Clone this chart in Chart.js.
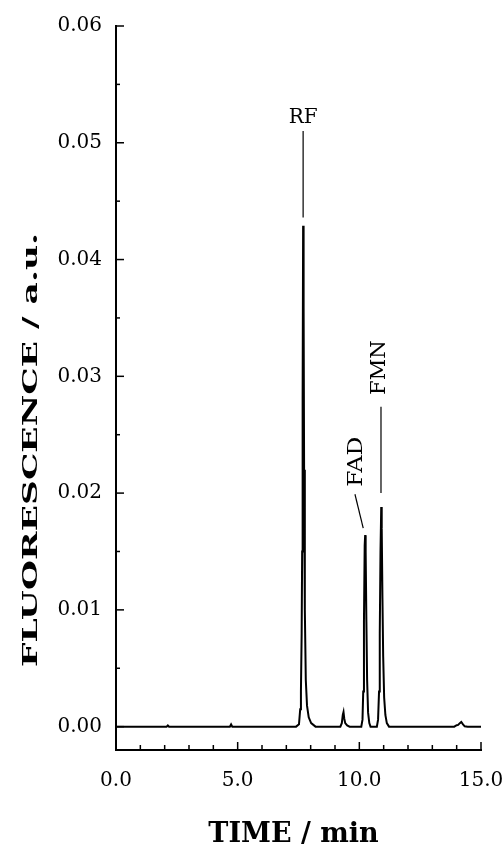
<!DOCTYPE html>
<html>
<head>
<meta charset="utf-8">
<script src="https://cdn.jsdelivr.net/npm/chart.js@4/dist/chart.umd.min.js"></script>
<style>
  body { margin: 0; background: #fff; }
</style>
</head>
<body>
<canvas id="myChart" width="503" height="844"></canvas>
<script>
// chromatogram trace
const times = [0, 2.08, 2.13, 2.18, 4.68, 4.73, 4.78,
    7.40, 7.52, 7.57, 7.60, 7.63, 7.65, 7.67, 7.69, 7.71, 7.73, 7.76, 7.80, 7.85, 7.92, 8.02, 8.20,
    9.22, 9.28, 9.32, 9.35, 9.38, 9.42, 9.50, 9.60,
    10.08, 10.13, 10.16, 10.19, 10.22, 10.24, 10.26, 10.29, 10.32, 10.36, 10.41, 10.46,
    10.72, 10.77, 10.81, 10.84, 10.87, 10.90, 10.92, 10.95, 10.98, 11.02, 11.07, 11.13, 11.22,
    13.90, 14.00, 14.06, 14.13, 14.19, 14.26, 14.33, 14.45, 15.0];
const fluorescence = [0, 0, 0.0001, 0, 0, 0.0002, 0,
    0, 0.0002, 0.0015, 0.003, 0.008, 0.015, 0.028, 0.0429, 0.036, 0.022, 0.010, 0.004, 0.0018, 0.0008, 0.0003, 0,
    0, 0.0003, 0.0010, 0.00125, 0.0007, 0.0003, 0.0001, 0,
    0, 0.0006, 0.003, 0.009, 0.0155, 0.0164, 0.0150, 0.009, 0.004, 0.0012, 0.0003, 0,
    0, 0.0006, 0.003, 0.008, 0.0150, 0.0188, 0.0170, 0.011, 0.006, 0.0025, 0.0010, 0.0003, 0,
    0, 0.00012, 0.00015, 0.0003, 0.0004, 0.0002, 0.00003, 0, 0];

const xTicks = [0, 5, 10, 15];
const xMinorTicks = [1, 2, 3, 4, 6, 7, 8, 9, 11, 12, 13, 14];
const yTicks = [0, 0.01, 0.02, 0.03, 0.04, 0.05, 0.06];
const yMinorTicks = [0.005, 0.015, 0.025, 0.035, 0.045, 0.055];

const serif = "'DejaVu Serif', serif";

// inward ticks, peak labels and axis titles
const decor = {
    id: 'decor',
    afterDraw(chart) {
        const {ctx, chartArea: a, scales: {x, y}} = chart;
        ctx.save();
        ctx.strokeStyle = '#000';
        ctx.fillStyle = '#000';
        ctx.lineWidth = 1.5;
        const line = (x1, y1, x2, y2) => {
            ctx.beginPath();
            ctx.moveTo(x1, y1);
            ctx.lineTo(x2, y2);
            ctx.stroke();
        };
        xTicks.forEach(v => line(x.getPixelForValue(v), a.bottom, x.getPixelForValue(v), a.bottom - 8));
        xMinorTicks.forEach(v => line(x.getPixelForValue(v), a.bottom, x.getPixelForValue(v), a.bottom - 5));
        yTicks.forEach(v => line(a.left, y.getPixelForValue(v), a.left + 8, y.getPixelForValue(v)));
        yMinorTicks.forEach(v => line(a.left, y.getPixelForValue(v), a.left + 4, y.getPixelForValue(v)));

        // peak labels
        ctx.lineWidth = 1.2;
        line(x.getPixelForValue(7.69), y.getPixelForValue(0.0510), x.getPixelForValue(7.69), y.getPixelForValue(0.0436));
        line(x.getPixelForValue(9.82), y.getPixelForValue(0.0199), x.getPixelForValue(10.16), y.getPixelForValue(0.0170));
        line(x.getPixelForValue(10.89), y.getPixelForValue(0.0274), x.getPixelForValue(10.89), y.getPixelForValue(0.0200));

        ctx.font = '20px ' + serif;
        ctx.textAlign = 'center';
        ctx.textBaseline = 'alphabetic';
        ctx.fillText('RF', x.getPixelForValue(7.69), y.getPixelForValue(0.05166));

        const vtext = (txt, px, py, stretch) => {
            ctx.save();
            ctx.translate(px, py);
            ctx.rotate(-Math.PI / 2);
            ctx.scale(stretch, 1);
            ctx.fillText(txt, 0, 0);
            ctx.restore();
        };
        ctx.font = '21px ' + serif;
        vtext('FAD', x.getPixelForValue(10.11), y.getPixelForValue(0.02268), 1.12);
        vtext('FMN', x.getPixelForValue(11.05), y.getPixelForValue(0.03074), 1.0);

        // axis titles
        ctx.font = 'bold 27px ' + serif;
        ctx.fillText('TIME / min', (a.left + a.right) / 2 - 5, 842);

        ctx.font = 'bold 21px ' + serif;
        const title = 'FLUORESCENCE / a.u.';
        const w = ctx.measureText(title).width;
        vtext(title, 37, 450, 434 / w);
        ctx.restore();
    }
};

const ctx = document.getElementById('myChart');
const myChart = new Chart(ctx, {
    type: 'line',
    data: {
        datasets: [{
            data: times.map((t, i) => ({x: t, y: fluorescence[i]})),
            borderColor: '#000',
            borderWidth: 2,
            pointRadius: 0,
            tension: 0,
            fill: false
        }]
    },
    options: {
        responsive: false,
        animation: false,
        layout: {
            padding: {top: 23, right: 0, left: 0, bottom: 0}
        },
        scales: {
            x: {
                type: 'linear',
                min: 0,
                max: 15,
                afterBuildTicks: s => { s.ticks = xTicks.map(v => ({value: v})); },
                afterFit: s => { s.height = 94; s.paddingRight = 22; },
                grid: {display: false, drawTicks: false},
                border: {color: '#000', width: 2},
                ticks: {
                    color: '#000',
                    font: {family: serif, size: 20},
                    padding: 19,
                    maxRotation: 0,
                    autoSkip: false,
                    callback: v => v.toFixed(1)
                }
            },
            y: {
                min: -0.002,
                max: 0.06,
                afterBuildTicks: s => { s.ticks = yTicks.map(v => ({value: v})); },
                afterFit: s => { s.width = 116; },
                grid: {display: false, drawTicks: false},
                border: {color: '#000', width: 2},
                ticks: {
                    color: '#000',
                    font: {family: serif, size: 20},
                    padding: 14,
                    autoSkip: false,
                    callback: v => v.toFixed(2)
                }
            }
        },
        plugins: {
            legend: {display: false},
            tooltip: {enabled: false}
        }
    },
    plugins: [decor]
});
</script>
</body>
</html>
